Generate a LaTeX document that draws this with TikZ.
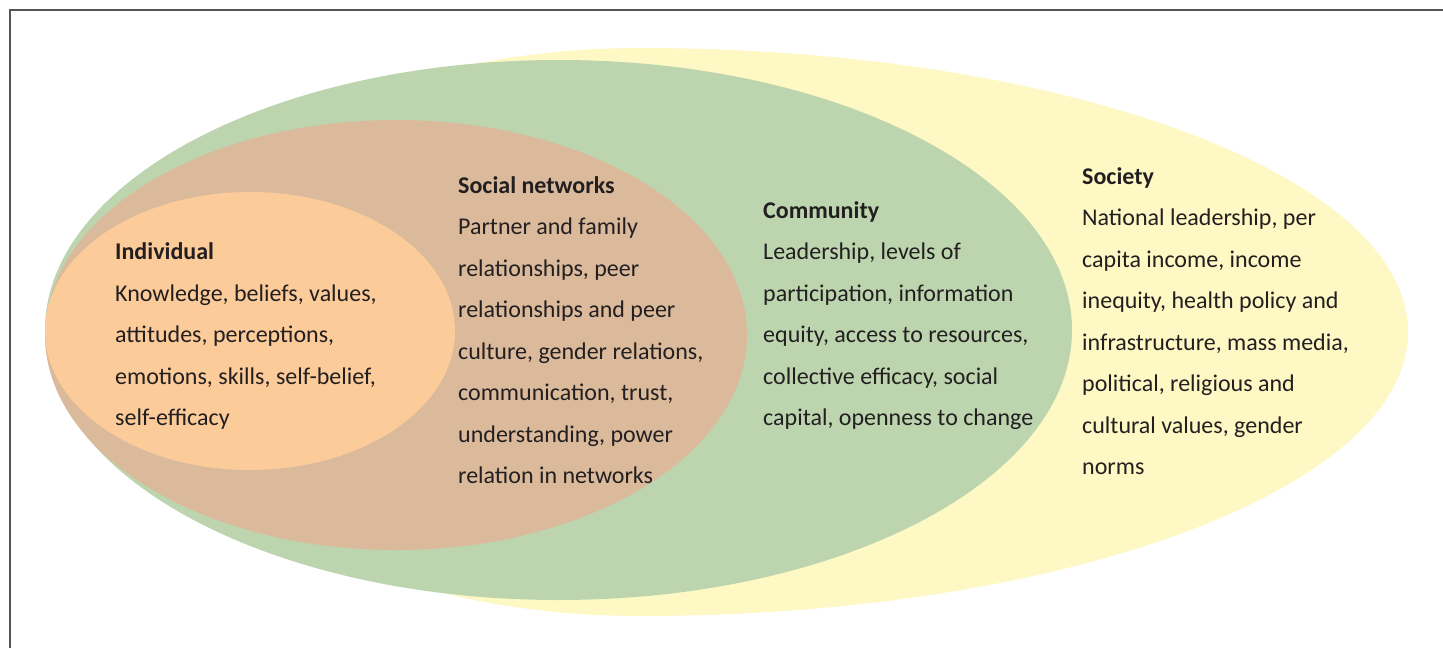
\documentclass[tikz,border=0pt]{standalone}
\usepackage{fontspec}
\setmainfont{Carlito}
\usetikzlibrary{calc}

\definecolor{societyfill}{RGB}{254,248,196}
\definecolor{communityfill}{RGB}{188,213,175}
\definecolor{networkfill}{RGB}{219,186,156}
\definecolor{individualfill}{RGB}{252,203,154}
\definecolor{textdark}{RGB}{35,31,32}
\definecolor{framegray}{RGB}{85,85,85}

% base anchor sits on the last line of a multi-line node
\tikzset{
  levelbox/.style={anchor=base west, inner sep=0pt, align=left, text=textdark,
    font=\fontsize{24}{41.5}\selectfont},
}

\begin{document}
\begin{tikzpicture}[x=1pt,y=1pt]

\useasboundingbox (0,0) rectangle (1443,-648);

\coordinate (SocietyC)    at (640,-332);
\coordinate (CommunityC)  at (558.5,-330);
\coordinate (NetworkC)    at (396,-335);
\coordinate (IndividualC) at (250,-331);

% frame, only top and left edge show
\draw[framegray, line width=2pt] (10,-648) -- (10,-10) -- (1443,-10);

% society: wide right half, left half tucked behind community
\fill[societyfill] ($(SocietyC)+(0,284)$)
  arc[start angle=90, end angle=-90, x radius=768pt, y radius=284pt]
  arc[start angle=270, end angle=90, x radius=500pt, y radius=284pt] -- cycle;

\fill[communityfill]  (CommunityC)  ellipse [x radius=513.5pt, y radius=270pt];
\fill[networkfill]    (NetworkC)    ellipse [x radius=351pt, y radius=215pt];
\fill[individualfill] (IndividualC) ellipse [x radius=205pt, y radius=139pt];

\node[levelbox] (Individual) at (115,-425.5) {\textbf{Individual}\\
  Knowledge, beliefs, values,\\attitudes, perceptions,\\
  emotions, skills, self-belief,\\self-efficacy};

\node[levelbox] (Network) at (458,-483.5) {\textbf{Social networks}\\
  Partner and family\\relationships, peer\\relationships and peer\\
  culture, gender relations,\\communication, trust,\\
  understanding, power\\relation in networks};

\node[levelbox] (Community) at (763,-425.5) {\textbf{Community}\\
  Leadership, levels of\\participation, information\\
  equity, access to resources,\\collective efficacy, social\\
  capital, openness to change};

\node[levelbox] (Society) at (1082,-474.5) {\textbf{Society}\\
  National leadership, per\\capita income, income\\
  inequity, health policy and\\infrastructure, mass media,\\
  political, religious and\\cultural values, gender\\norms};

\end{tikzpicture}
\end{document}
